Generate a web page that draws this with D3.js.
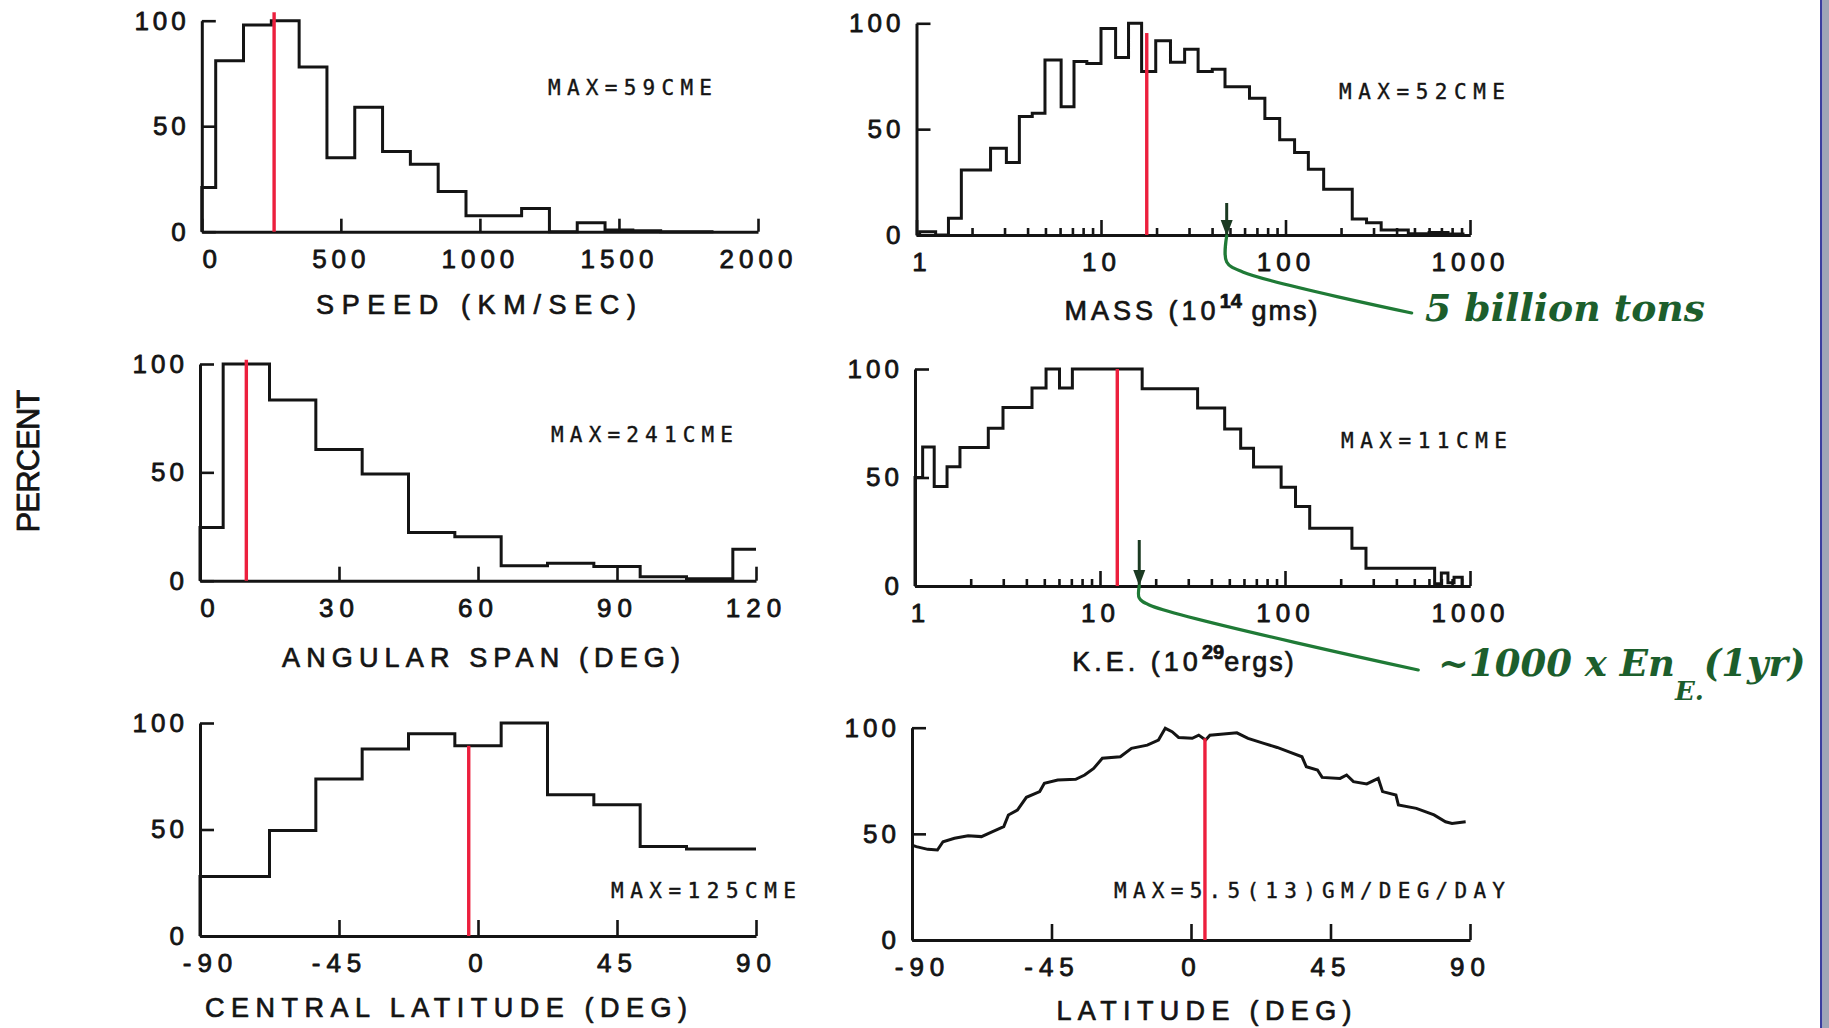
<!DOCTYPE html>
<html>
<head>
<meta charset="utf-8">
<script src="https://cdn.jsdelivr.net/npm/d3@7"></script>
<style>
  body { margin: 0; background: #fff; }
  svg { display: block; }
</style>
</head>
<body>
<div id="chart-area"></div>
<script>
// values, percent of the largest bin

// speed (km/s)
const speedEdges = [0, 50, 150, 250, 350, 450, 550, 650, 750, 850, 950, 1150, 1250, 1350, 1450, 1550, 1650, 1840];
const speedPct = [21, 81, 98, 100, 78, 35, 59, 38, 32, 19, 7.6, 11, 0, 4.3, 0.8, 0.5, 0];
const speedTicks = [0, 500, 1000, 1500, 2000];
const speedMedian = 260;

// mass (10^14 g), log bins
const massEdges = [1, 1.04, 1.27, 1.49, 1.75, 2.52, 3.07, 3.61, 4.24, 4.97, 6.08, 7.14, 8.38, 10, 12, 14.1, 16.6, 19.8,
  23.8, 28.4, 33.6, 40.1, 47, 63.8, 77.3, 93, 112, 133, 161, 230, 275, 330, 463, 600, 760, 916];
const massPct = [0, 1.5, 0, 7.9, 30.7, 41, 34.3, 56, 57.5, 82.7, 60.6, 82, 81, 97.6, 83.8, 100, 77.2, 91.7, 81.6,
  87.7, 77.2, 78.3, 70, 64.6, 55, 45, 39, 31, 21.6, 7.6, 5.8, 2.4, 0.6, 1.2, 0.5];
const massMedian = 17.7;
const massMarker = 48;

// angular span (deg)
const spanEdges = [0, 5, 15, 25, 35, 45, 55, 65, 75, 85, 95, 105, 115, 120];
const spanPct = [24.6, 100, 83.4, 60.6, 49.2, 22.3, 20.3, 6.9, 8, 6.5, 1.8, 0.9, 14.5];
const spanTicks = [0, 30, 60, 90, 120];
const spanMedian = 10;

// kinetic energy (10^29 erg), log bins
const keEdges = [1, 1.1, 1.27, 1.49, 1.75, 2.49, 2.99, 4.29, 5.11, 6.04, 7.09, 16.9, 33.7, 47.2, 57.6, 67.6, 95.3,
  114, 136, 230, 274, 644, 700, 760, 820, 908];
const kePct = [50, 64, 45.8, 55, 63.8, 72.7, 82.3, 91.2, 100, 91.2, 100, 90.9, 82, 72.3, 63.5, 54.8, 45.5, 36.6,
  26.6, 17.4, 8.2, 1, 6, 1.5, 4];
const keMedian = 12.4;
const keMarker = 16.3;

// central latitude (deg)
const clatEdges = [-90, -67.5, -52.5, -37.5, -22.5, -7.5, 7.5, 22.5, 37.5, 52.5, 67.5, 90];
const clatPct = [27.9, 49.5, 73.7, 87.8, 95, 89.3, 100, 66.3, 61.6, 42, 40.8];
const latTicks = [-90, -45, 0, 45, 90];
const clatMedian = -3;

// mass flux by latitude (deg)
const latDeg = [-90, -88.6, -84.9, -81.8, -80, -76.3, -71.9, -67.6, -64, -60.4, -58.9, -56, -53.1, -48.8, -47.3,
  -43, -37.2, -34.3, -31.4, -28.6, -22.8, -19.2, -14.1, -10.5, -8.3, -6.1, -4, 0.4, 2.5, 4.7, 6.1, 10.5, 14.8,
  18.4, 23.5, 27.8, 31.4, 35.8, 37.2, 40.8, 42.3, 48.1, 50.2, 52.4, 56.7, 60.4, 61.8, 66.1, 66.9, 72.7, 78.4,
  82.1, 84.2, 88.6];
const latPct = [44.7, 44, 42.7, 42.4, 46.3, 47.9, 49.1, 48.7, 51, 53.4, 58.9, 61.2, 67.2, 69.9, 73.8, 75.4, 75.7,
  77.7, 80.8, 85.6, 86.3, 90.3, 91.8, 94.2, 99.7, 98.1, 95.4, 95, 96.5, 94.2, 96.5, 97, 97.6, 95, 92.6, 90.7,
  88.7, 86.3, 81.6, 80.1, 76.6, 76.1, 77.7, 74.6, 73.5, 76.1, 69.9, 68.3, 63.6, 62, 58.9, 55.7, 54.9, 55.7];
const latMedian = 4.5;

const pctTicks = [0, 50, 100];

const ink = '#141414';
const red = '#ec1f3d';
const green = '#1f7a36';
const tickFont = 'Liberation Sans, Arial, sans-serif';
const monoFont = 'DejaVu Sans Mono, monospace';

const svg = d3.select('#chart-area').append('svg')
  .attr('width', 1829)
  .attr('height', 1028);

svg.append('rect').attr('width', 1829).attr('height', 1028).attr('fill', '#fff');

function stepPoints(edges, vals, drop) {
  const pts = [[edges[0], 0]];
  vals.forEach((v, i) => pts.push([edges[i], v]));
  pts.push([edges[edges.length - 1], vals[vals.length - 1]]);
  if (drop) pts.push([edges[edges.length - 1], 0]);
  return pts;
}

// thicken thin system fonts a bit so they read like the inked lettering
function inked(sel, w) {
  sel.style('stroke', ink).style('stroke-width', w + 'px').style('stroke-linejoin', 'round');
}

function styleAxis(sel) {
  sel.select('.domain').attr('stroke', ink).attr('stroke-width', 3);
  sel.selectAll('.tick line').attr('stroke', ink).attr('stroke-width', 2.6);
  sel.selectAll('.tick text')
    .attr('fill', ink)
    .style('font-family', tickFont)
    .style('font-size', '26px')
    .style('letter-spacing', '4px')
    .call(inked, 0.8);
}

function panel(p) {
  const g = svg.append('g');
  const x = (p.log ? d3.scaleLog() : d3.scaleLinear()).domain(p.xDomain).range(p.xRange);
  const y = d3.scaleLinear().domain([0, 100]).range(p.yRange);

  // histogram or trace
  const line = d3.line()
    .x(d => x(d[0]))
    .y(d => y(d[1]))
    .curve(p.trace ? d3.curveLinear : d3.curveStepAfter);
  g.append('path')
    .attr('d', line(p.points))
    .attr('fill', 'none')
    .attr('stroke', ink)
    .attr('stroke-width', 3)
    .attr('stroke-linejoin', 'miter');

  // x axis, ticks pointing up into the plot
  if (p.log) {
    const minor = [];
    [1, 10, 100].forEach(d => { for (let k = 2; k <= 9; k++) minor.push(d * k); });
    g.append('g')
      .attr('transform', `translate(0,${p.yRange[0]})`)
      .call(d3.axisBottom(x).tickValues(minor).tickSize(-7).tickSizeOuter(0).tickFormat(''))
      .call(styleAxis);
  }
  const xAxis = g.append('g')
    .attr('transform', `translate(0,${p.yRange[0]})`)
    .call(d3.axisBottom(x).tickValues(p.xTicks).tickSize(-p.tickLen).tickSizeOuter(0)
      .tickPadding(18).tickFormat(d => String(d)))
    .call(styleAxis);
  xAxis.selectAll('.tick text')
    .style('letter-spacing', p.xSpacing + 'px')
    .attr('dx', (d, i) => i === 0 ? (p.log ? 5 : 10) : 0);

  // y axis
  g.append('g')
    .attr('transform', `translate(${p.xRange[0]},0)`)
    .call(d3.axisLeft(y).tickValues(pctTicks).tickSize(-14).tickSizeOuter(0).tickPadding(12)
      .tickFormat(d => String(d)))
    .call(styleAxis);

  // median marker
  g.append('line')
    .attr('x1', x(p.median)).attr('x2', x(p.median))
    .attr('y1', y(0)).attr('y2', y(p.medianTop))
    .attr('stroke', red)
    .attr('stroke-width', 3.4);

  // MAX= note
  g.append('text')
    .attr('x', p.note[0]).attr('y', p.note[1])
    .attr('textLength', p.note[2])
    .attr('lengthAdjust', 'spacing')
    .attr('fill', ink)
    .style('font-family', monoFont)
    .style('font-size', '21px')
    .call(inked, 0.4)
    .text(p.noteText);

  // axis title
  const t = g.append('text')
    .attr('x', p.title[0]).attr('y', p.title[1])
    .attr('text-anchor', 'middle')
    .attr('fill', ink)
    .style('font-family', tickFont)
    .style('font-size', '27px')
    .call(inked, 0.7);
  if (p.titleSup) {
    t.style('letter-spacing', '4px');
    t.append('tspan').text(p.titleText[0]);
    t.append('tspan').attr('dy', -12).style('font-size', '20px').style('font-weight', 'bold')
      .style('letter-spacing', '0px').text(p.titleSup);
    t.append('tspan').attr('dy', 12).style('letter-spacing', '2px').text(p.titleText[1]);
  } else {
    t.attr('textLength', p.title[2]).attr('lengthAdjust', 'spacing').text(p.titleText);
  }

  return { x, y };
}

panel({
  xDomain: [0, 2000], xRange: [201.8, 758], yRange: [231.7, 20.7], log: false,
  points: stepPoints(speedEdges, speedPct, true),
  xTicks: speedTicks, tickLen: 13, xSpacing: 5,
  median: speedMedian, medianTop: 104,
  note: [548, 95, 164], noteText: 'MAX=59CME',
  title: [476, 314, 320], titleText: 'SPEED (KM/SEC)'
});

const mass = panel({
  xDomain: [1, 1000], xRange: [916.5, 1470], yRange: [235, 23.3], log: true,
  points: stepPoints(massEdges, massPct, true),
  xTicks: [1, 10, 100, 1000], tickLen: 15, xSpacing: 5,
  median: massMedian, medianTop: 95.4,
  note: [1339, 99, 166], noteText: 'MAX=52CME',
  title: [1192, 320], titleText: ['MASS (10', ' gms)'], titleSup: '14'
});

panel({
  xDomain: [0, 120], xRange: [200, 756], yRange: [580.7, 364], log: false,
  points: stepPoints(spanEdges, spanPct, false),
  xTicks: spanTicks, tickLen: 14, xSpacing: 6,
  median: spanMedian, medianTop: 102,
  note: [551, 442, 182], noteText: 'MAX=241CME',
  title: [481, 667, 398], titleText: 'ANGULAR SPAN (DEG)'
});

const ke = panel({
  xDomain: [1, 1000], xRange: [915, 1470], yRange: [586, 369], log: true,
  points: stepPoints(keEdges, kePct, true),
  xTicks: [1, 10, 100, 1000], tickLen: 15, xSpacing: 5,
  median: keMedian, medianTop: 100,
  note: [1341, 448, 166], noteText: 'MAX=11CME',
  title: [1184, 671], titleText: ['K.E. (10', 'ergs)'], titleSup: '29'
});

panel({
  xDomain: [-90, 90], xRange: [200, 756], yRange: [936, 723], log: false,
  points: stepPoints(clatEdges, clatPct, false),
  xTicks: latTicks, tickLen: 16, xSpacing: 6,
  median: clatMedian, medianTop: 89.3,
  note: [611, 898, 185], noteText: 'MAX=125CME',
  title: [446, 1017, 482], titleText: 'CENTRAL LATITUDE (DEG)'
});

panel({
  xDomain: [-90, 90], xRange: [912, 1470], yRange: [940, 727.7], log: false, trace: true,
  points: latDeg.map((d, i) => [d, latPct[i]]),
  xTicks: latTicks, tickLen: 16, xSpacing: 6,
  median: latMedian, medianTop: 95,
  note: [1114, 898, 391], noteText: 'MAX=5.5(13)GM/DEG/DAY',
  title: [1204, 1020, 295], titleText: 'LATITUDE (DEG)'
});

// shared y label
svg.append('text')
  .attr('transform', 'translate(39,461) rotate(-90)')
  .attr('text-anchor', 'middle')
  .attr('textLength', 143)
  .attr('lengthAdjust', 'spacing')
  .attr('fill', ink)
  .style('font-family', tickFont)
  .style('font-size', '31px')
  .call(inked, 0.8)
  .text('PERCENT');

// hand-drawn green annotations
function pointer(scales, value, top, bottom, leader) {
  const ax = scales.x(value);
  const g = svg.append('g');
  g.append('line')
    .attr('x1', ax).attr('x2', ax).attr('y1', top).attr('y2', bottom)
    .attr('stroke', '#1b3a22').attr('stroke-width', 3);
  g.append('path')
    .attr('d', `M${ax - 6},${bottom - 16}L${ax + 6},${bottom - 16}L${ax},${bottom}Z`)
    .attr('fill', '#1b3a22');
  const pts = [[ax, bottom]].concat(leader.map(d => [ax + d[0], d[1]]));
  g.append('path')
    .attr('d', d3.line().curve(d3.curveCatmullRom)(pts))
    .attr('fill', 'none')
    .attr('stroke', green)
    .attr('stroke-width', 3.2)
    .attr('stroke-linecap', 'round');
  return g;
}

pointer(mass, massMarker, 203, 236, [[0, 262], [16, 272], [185, 313]]);
pointer(ke, keMarker, 540, 586, [[0, 598], [10, 605], [279, 670]]);

svg.append('text')
  .attr('x', 1425).attr('y', 321)
  .attr('textLength', 280)
  .attr('lengthAdjust', 'spacingAndGlyphs')
  .attr('fill', '#1c5e2c')
  .style('font-family', 'DejaVu Serif, serif')
  .style('font-style', 'italic')
  .style('font-weight', 'bold')
  .style('font-size', '38px')
  .text('5 billion tons');

const en = svg.append('text')
  .attr('x', 1438).attr('y', 676)
  .attr('fill', '#1c5e2c')
  .style('font-family', 'DejaVu Serif, serif')
  .style('font-style', 'italic')
  .style('font-weight', 'bold')
  .style('font-size', '37px');
en.append('tspan').text('~1000 x En');
en.append('tspan').attr('dy', 24).style('font-size', '26px').text('E.');
en.append('tspan').attr('dy', -24).text('(1yr)');

// slide border on the right edge
svg.append('rect').attr('x', 1820).attr('y', 0).attr('width', 2.5).attr('height', 1028).attr('fill', '#3b3f9e');
svg.append('rect').attr('x', 1822.5).attr('y', 0).attr('width', 6.5).attr('height', 1028).attr('fill', '#9ea6b6');
</script>
</body>
</html>
